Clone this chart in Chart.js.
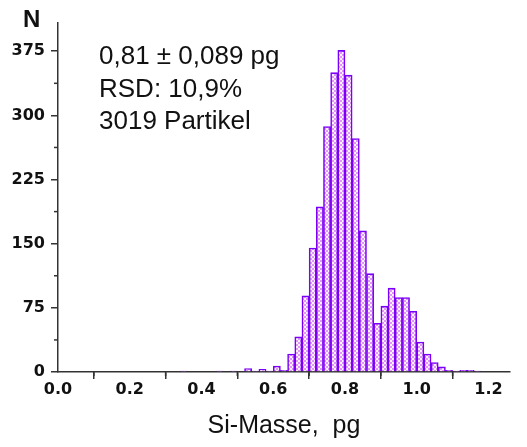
<!DOCTYPE html>
<html>
<head>
<meta charset="utf-8">
<script src="https://cdn.jsdelivr.net/npm/chart.js@4/dist/chart.umd.min.js"></script>
<style>
  body { margin: 0; background: #fff; }
  #wrap { width: 527px; height: 447px; }
</style>
</head>
<body>
<div id="wrap"><canvas id="massChart"></canvas></div>
<script>
// Histogramm der Si-Masse pro Partikel (Klassenbreite 0,02 pg)
const binCenters = [0.35, 0.45, 0.49, 0.53, 0.55, 0.57, 0.59, 0.61, 0.63, 0.65, 0.67, 0.69,
                    0.71, 0.73, 0.75, 0.77, 0.79, 0.81, 0.83, 0.85, 0.87, 0.89, 0.91, 0.93,
                    0.95, 0.97, 0.99, 1.01, 1.03, 1.05, 1.07, 1.09, 1.11, 1.13, 1.15, 1.17];
const counts = [1, 1, 1, 4, 1, 3, 1, 7, 2, 21, 41, 89,
                145, 193, 287, 350, 376, 347, 273, 165, 115, 57, 77, 98,
                87, 87, 71, 35, 21, 11, 6, 2, 1, 2, 2, 1];
const xTicks = [0.0, 0.2, 0.4, 0.6, 0.8, 1.0, 1.2];
const yTicks = [0, 75, 150, 225, 300, 375];
const infoLines = ['0,81 \u00b1 0,089 pg', 'RSD: 10,9%', '3019 Partikel'];

const fontFam = '"Liberation Sans", Arial, sans-serif';
const tickFam = '"DejaVu Sans", Verdana, sans-serif';

// Karomuster für die Balkenfüllung
function makePattern() {
    const p = document.createElement('canvas');
    p.width = 4; p.height = 4;
    const c = p.getContext('2d');
    c.fillStyle = '#fbf0fd';
    c.fillRect(0, 0, 4, 4);
    c.fillStyle = '#de98f0';
    c.fillRect(0, 0, 2, 2);
    c.fillRect(2, 2, 2, 2);
    return c.createPattern(p, 'repeat');
}

// kleine Zwischenstriche + Text (N, Statistik)
const extras = {
    id: 'extras',
    afterDraw(chart) {
        const ctx = chart.ctx;
        const xs = chart.scales.x, ys = chart.scales.y;
        ctx.save();
        ctx.strokeStyle = '#333';
        ctx.lineWidth = 1.5;
        for (let i = 0; i < xTicks.length; i++) {
            const v = xTicks[i] + 0.1;
            if (v > xs.max) continue;
            const px = xs.getPixelForValue(v);
            ctx.beginPath();
            ctx.moveTo(px, xs.top);
            ctx.lineTo(px, xs.top + 4);
            ctx.stroke();
        }
        for (let i = 0; i < yTicks.length; i++) {
            const v = yTicks[i] + 37.5;
            if (v > ys.max) continue;
            const py = ys.getPixelForValue(v);
            ctx.beginPath();
            ctx.moveTo(ys.right, py);
            ctx.lineTo(ys.right - 4, py);
            ctx.stroke();
        }
        ctx.fillStyle = '#111';
        ctx.textAlign = 'left';
        ctx.textBaseline = 'alphabetic';
        ctx.font = 'bold 24px ' + fontFam;
        ctx.fillText('N', 23, 27);
        ctx.font = '26px ' + fontFam;
        infoLines.forEach((t, i) => ctx.fillText(t, 99, 64 + i * 32.5));
        ctx.restore();
    }
};

const ctx = document.getElementById('massChart').getContext('2d');
const massChart = new Chart(ctx, {
    type: 'bar',
    data: {
        datasets: [{
            data: binCenters.map((x, i) => ({ x: x, y: counts[i] })),
            backgroundColor: makePattern(),
            borderColor: '#7a00f8',
            borderWidth: 1.6,
            barPercentage: 1.0,
            categoryPercentage: 1.0
        }]
    },
    options: {
        responsive: true,
        maintainAspectRatio: false,
        animation: false,
        layout: { padding: { top: 23, right: 17, left: 0, bottom: 0 } },
        plugins: {
            legend: { display: false },
            tooltip: { enabled: false }
        },
        scales: {
            x: {
                type: 'linear',
                offset: false,
                min: 0,
                max: 1.26,
                afterFit: (s) => { s.height = 75; },
                border: { color: '#333', width: 1.5 },
                grid: { drawOnChartArea: false, tickLength: 7, color: '#333', lineWidth: 1.5 },
                ticks: {
                    stepSize: 0.2,
                    includeBounds: false,
                    padding: 1,
                    color: '#111',
                    maxRotation: 0,
                    font: { family: tickFam, size: 16, weight: 'bold' },
                    callback: (v) => Number(v).toFixed(1)
                },
                title: {
                    display: true,
                    text: 'Si-Masse,  pg',
                    color: '#111',
                    padding: { top: 0, bottom: 6 },
                    font: { family: fontFam, size: 25 }
                }
            },
            y: {
                min: 0,
                max: 408,
                afterFit: (s) => { s.width = 58; },
                border: { color: '#333', width: 1.5 },
                grid: { drawOnChartArea: false, tickLength: 7, color: '#333', lineWidth: 1.5 },
                ticks: {
                    stepSize: 75,
                    includeBounds: false,
                    padding: 6,
                    color: '#111',
                    font: { family: tickFam, size: 16, weight: 'bold' }
                }
            }
        }
    },
    plugins: [extras]
});
</script>
</body>
</html>
